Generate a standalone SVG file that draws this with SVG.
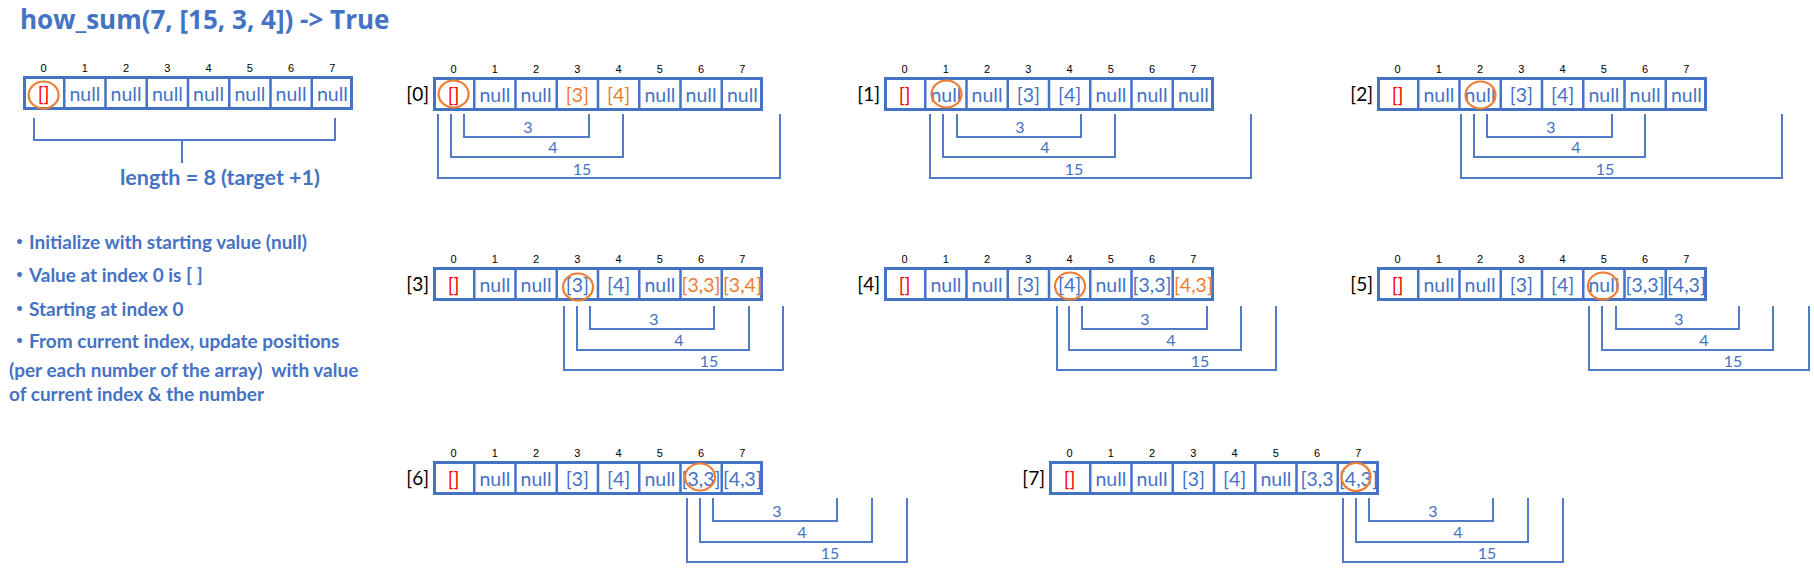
<svg xmlns="http://www.w3.org/2000/svg" xmlns:xlink="http://www.w3.org/1999/xlink" width="1814" height="572" viewBox="0 0 1814 572">
<style>
.box{fill:#fff;stroke:#4472C4;stroke-width:3}
.dv{fill:none;stroke:#4472C4;stroke-width:2.5}
.idx{font-family:"Liberation Sans",Arial,sans-serif;font-size:11px;fill:#000;text-anchor:middle}
.c{font-family:Lato,"Liberation Sans",sans-serif;font-size:19.5px;fill:#4472C4;text-anchor:middle}
.r{fill:#FF0000}
.o{fill:#ED7D31}
.circ{fill:none;stroke:#ED7D31;stroke-width:2.2}
.lbl{font-family:Lato,"Liberation Sans",sans-serif;font-size:19px;fill:#000;text-anchor:end}
.br{fill:none;stroke:#4F7BC8;stroke-width:2}
.bl{font-family:Lato,"Liberation Sans",sans-serif;font-size:16px;fill:#4472C4;text-anchor:middle}
.title{font-family:"Open Sans","Noto Sans",sans-serif;font-weight:bold;font-size:26px;fill:#4472C4}
.bt{font-family:Lato,"Noto Sans CJK JP",sans-serif;font-weight:bold;font-size:19px;fill:#4472C4}
.len{font-family:Lato,"Liberation Sans",sans-serif;font-weight:bold;font-size:21.5px;fill:#4472C4;text-anchor:middle}
</style>
<defs>
<g id="frame">
<rect class="box" x="1.5" y="1.5" width="327" height="31"/>
<path class="dv" d="M41.25 2V32M82.5 2V32M123.75 2V32M165 2V32M206.25 2V32M247.5 2V32M288.75 2V32"/>
</g>
<g id="idx">
<text class="idx" x="20.6" y="-4">0</text>
<text class="idx" x="61.9" y="-4">1</text>
<text class="idx" x="103.1" y="-4">2</text>
<text class="idx" x="144.4" y="-4">3</text>
<text class="idx" x="185.6" y="-4">4</text>
<text class="idx" x="226.9" y="-4">5</text>
<text class="idx" x="268.1" y="-4">6</text>
<text class="idx" x="309.4" y="-4">7</text>
</g>
</defs>
<rect width="1814" height="572" fill="#fff"/>

<g id="title">
<text class="title" x="20" y="29">how_sum(7, [15, 3, 4]) -&gt; True</text>
</g>

<g id="notes">
<text class="bt" x="10" y="249">・Initialize with starting value (null)</text>
<text class="bt" x="10" y="282">・Value at index 0 is [ ]</text>
<text class="bt" x="10" y="316">・Starting at index 0</text>
<text class="bt" x="10" y="348">・From current index, update positions</text>
<text class="bt" x="9" y="377" style="white-space:pre">(per each number of the array)  with value</text>
<text class="bt" x="9" y="401">of current index &amp; the number</text>
</g>

<g id="arr-init" transform="translate(23,76)">
<use href="#frame"/><use href="#idx"/>
<text class="c r" x="20.6" y="25">[]</text>
<text class="c" x="61.9" y="25">null</text>
<text class="c" x="103.1" y="25">null</text>
<text class="c" x="144.4" y="25">null</text>
<text class="c" x="185.6" y="25">null</text>
<text class="c" x="226.9" y="25">null</text>
<text class="c" x="268.1" y="25">null</text>
<text class="c" x="309.4" y="25">null</text>
<ellipse class="circ" cx="20.6" cy="19" rx="15" ry="13.5"/>
</g>

<g id="length-note">
<path class="br" d="M34 118V140H335V118M182 140V163"/>
<text class="len" x="220" y="185">length = 8 (target +1)</text>
</g>

<g id="arr-0" transform="translate(433,77)">
<text class="lbl" x="-4" y="24">[0]</text>
<use href="#frame"/><use href="#idx"/>
<text class="c r" x="20.6" y="25">[]</text>
<text class="c" x="61.9" y="25">null</text>
<text class="c" x="103.1" y="25">null</text>
<text class="c o" x="144.4" y="25">[3]</text>
<text class="c o" x="185.6" y="25">[4]</text>
<text class="c" x="226.9" y="25">null</text>
<text class="c" x="268.1" y="25">null</text>
<text class="c" x="309.4" y="25">null</text>
<ellipse class="circ" cx="20.6" cy="17" rx="15" ry="13.5"/>
</g>

<g id="arr-1" transform="translate(884,77)">
<text class="lbl" x="-4" y="24">[1]</text>
<use href="#frame"/><use href="#idx"/>
<text class="c r" x="20.6" y="25">[]</text>
<text class="c" x="61.9" y="25">null</text>
<text class="c" x="103.1" y="25">null</text>
<text class="c" x="144.4" y="25">[3]</text>
<text class="c" x="185.6" y="25">[4]</text>
<text class="c" x="226.9" y="25">null</text>
<text class="c" x="268.1" y="25">null</text>
<text class="c" x="309.4" y="25">null</text>
<ellipse class="circ" cx="62.5" cy="17" rx="15" ry="13.5"/>
</g>

<g id="arr-2" transform="translate(1377,77)">
<text class="lbl" x="-4" y="24">[2]</text>
<use href="#frame"/><use href="#idx"/>
<text class="c r" x="20.6" y="25">[]</text>
<text class="c" x="61.9" y="25">null</text>
<text class="c" x="103.1" y="25">null</text>
<text class="c" x="144.4" y="25">[3]</text>
<text class="c" x="185.6" y="25">[4]</text>
<text class="c" x="226.9" y="25">null</text>
<text class="c" x="268.1" y="25">null</text>
<text class="c" x="309.4" y="25">null</text>
<ellipse class="circ" cx="103.5" cy="18" rx="15" ry="13.5"/>
</g>

<g id="arr-3" transform="translate(433,267)">
<text class="lbl" x="-4" y="24">[3]</text>
<use href="#frame"/><use href="#idx"/>
<text class="c r" x="20.6" y="25">[]</text>
<text class="c" x="61.9" y="25">null</text>
<text class="c" x="103.1" y="25">null</text>
<text class="c" x="144.4" y="25">[3]</text>
<text class="c" x="185.6" y="25">[4]</text>
<text class="c" x="226.9" y="25">null</text>
<text class="c o" x="268.1" y="25">[3,3]</text>
<text class="c o" x="309.4" y="25">[3,4]</text>
<ellipse class="circ" cx="145" cy="20" rx="15" ry="13.5"/>
</g>

<g id="arr-4" transform="translate(884,267)">
<text class="lbl" x="-4" y="24">[4]</text>
<use href="#frame"/><use href="#idx"/>
<text class="c r" x="20.6" y="25">[]</text>
<text class="c" x="61.9" y="25">null</text>
<text class="c" x="103.1" y="25">null</text>
<text class="c" x="144.4" y="25">[3]</text>
<text class="c" x="185.6" y="25">[4]</text>
<text class="c" x="226.9" y="25">null</text>
<text class="c" x="268.1" y="25">[3,3]</text>
<text class="c o" x="309.4" y="25">[4,3]</text>
<ellipse class="circ" cx="186" cy="19" rx="15" ry="13.5"/>
</g>

<g id="arr-5" transform="translate(1377,267)">
<text class="lbl" x="-4" y="24">[5]</text>
<use href="#frame"/><use href="#idx"/>
<text class="c r" x="20.6" y="25">[]</text>
<text class="c" x="61.9" y="25">null</text>
<text class="c" x="103.1" y="25">null</text>
<text class="c" x="144.4" y="25">[3]</text>
<text class="c" x="185.6" y="25">[4]</text>
<text class="c" x="226.9" y="25">null</text>
<text class="c" x="268.1" y="25">[3,3]</text>
<text class="c" x="309.4" y="25">[4,3]</text>
<ellipse class="circ" cx="226" cy="19" rx="15" ry="13.5"/>
</g>

<g id="arr-6" transform="translate(433,461)">
<text class="lbl" x="-4" y="24">[6]</text>
<use href="#frame"/><use href="#idx"/>
<text class="c r" x="20.6" y="25">[]</text>
<text class="c" x="61.9" y="25">null</text>
<text class="c" x="103.1" y="25">null</text>
<text class="c" x="144.4" y="25">[3]</text>
<text class="c" x="185.6" y="25">[4]</text>
<text class="c" x="226.9" y="25">null</text>
<text class="c" x="268.1" y="25">[3,3]</text>
<text class="c" x="309.4" y="25">[4,3]</text>
<ellipse class="circ" cx="267" cy="16" rx="15" ry="13.5"/>
</g>

<g id="arr-7" transform="translate(1049,461)">
<text class="lbl" x="-4" y="24">[7]</text>
<use href="#frame"/><use href="#idx"/>
<text class="c r" x="20.6" y="25">[]</text>
<text class="c" x="61.9" y="25">null</text>
<text class="c" x="103.1" y="25">null</text>
<text class="c" x="144.4" y="25">[3]</text>
<text class="c" x="185.6" y="25">[4]</text>
<text class="c" x="226.9" y="25">null</text>
<text class="c" x="268.1" y="25">[3,3</text>
<text class="c" x="309.4" y="25">[4,3]</text>
<ellipse class="circ" cx="307" cy="16" rx="14.5" ry="14"/>
</g>

<g id="connectors">
<path class="br" d="M464 114V137H589V114M451 114V157H623V114M438 114V178H780V114"/>
<path class="br" d="M957 114V137H1081V114M943 114V157H1115V114M930 114V178H1251V114"/>
<path class="br" d="M1487 114V137H1612V114M1474 114V157H1645V114M1461 114V178H1782V114"/>
<path class="br" d="M590 306V329H714V306M577 306V350H749V306M564 306V370H783V306"/>
<path class="br" d="M1082 306V329H1207V306M1069 306V350H1241V306M1057 306V370H1276V306"/>
<path class="br" d="M1616 306V329H1739V306M1602 306V350H1773V306M1589 306V370H1809V306"/>
<path class="br" d="M713 498V521H837V498M700 498V542H872V498M687 498V562H907V498"/>
<path class="br" d="M1369 498V521H1493V498M1356 498V542H1528V498M1343 498V562H1563V498"/>
<text class="bl" x="528" y="133">3</text><text class="bl" x="553" y="153">4</text><text class="bl" x="582" y="175">15</text>
<text class="bl" x="1020" y="133">3</text><text class="bl" x="1045" y="153">4</text><text class="bl" x="1074" y="175">15</text>
<text class="bl" x="1551" y="133">3</text><text class="bl" x="1576" y="153">4</text><text class="bl" x="1605" y="175">15</text>
<text class="bl" x="654" y="325">3</text><text class="bl" x="679" y="346">4</text><text class="bl" x="709" y="367">15</text>
<text class="bl" x="1145" y="325">3</text><text class="bl" x="1171" y="346">4</text><text class="bl" x="1200" y="367">15</text>
<text class="bl" x="1679" y="325">3</text><text class="bl" x="1704" y="346">4</text><text class="bl" x="1733" y="367">15</text>
<text class="bl" x="777" y="517">3</text><text class="bl" x="802" y="538">4</text><text class="bl" x="830" y="559">15</text>
<text class="bl" x="1433" y="517">3</text><text class="bl" x="1458" y="538">4</text><text class="bl" x="1487" y="559">15</text>
</g>
</svg>
